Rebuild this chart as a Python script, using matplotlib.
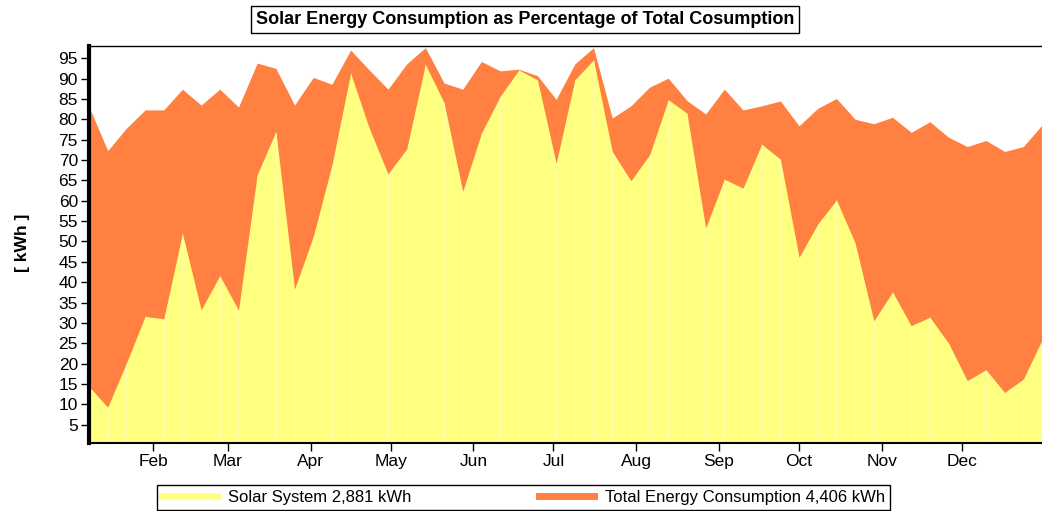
import numpy as np
import matplotlib.pyplot as plt
from matplotlib.lines import Line2D

plt.rcParams['font.family'] = ['Liberation Sans', 'DejaVu Sans']

# weekly values, first week ends on day 7
days = np.arange(1, 53) * 7
total = [83.1, 72.3, 77.8, 82.3, 82.3, 87.4, 83.5, 87.4, 83.0, 93.8,
         92.5, 83.5, 90.3, 88.6, 97.0, 92.1, 87.4, 93.6, 97.6, 88.9,
         87.4, 94.2, 91.9, 92.3, 90.7, 84.9, 93.6, 97.6, 80.3, 83.3,
         87.9, 90.1, 84.6, 81.3, 87.4, 82.3, 83.3, 84.5, 78.4, 82.7,
         85.1, 80.0, 78.9, 80.5, 76.8, 79.4, 75.6, 73.3, 74.8, 72.1,
         73.3, 78.6]
solar = [14.4, 9.3, 20.1, 31.6, 31.0, 52.0, 33.2, 41.6, 33.1, 66.4,
         77.0, 38.3, 51.2, 68.8, 91.3, 77.8, 66.6, 72.7, 93.5, 84.1,
         62.3, 76.6, 85.6, 92.1, 89.7, 69.2, 89.7, 94.6, 72.1, 64.9,
         71.3, 84.8, 81.5, 53.3, 65.3, 63.1, 73.9, 70.2, 46.1, 54.3,
         60.2, 49.6, 30.5, 37.6, 29.3, 31.4, 25.0, 15.8, 18.5, 12.9,
         16.2, 25.8]

month_days = [31, 59, 90, 120, 151, 181, 212, 243, 273, 304, 334]
month_names = ['Feb', 'Mar', 'Apr', 'May', 'Jun', 'Jul', 'Aug', 'Sep', 'Oct', 'Nov', 'Dec']

solar_label = 'Solar System 2,881 kWh'
total_label = 'Total Energy Consumption 4,406 kWh'
title = 'Solar Energy Consumption as Percentage of Total Cosumption'

orange = '#FF8040'
yellow = '#FFFF80'

fig = plt.figure(figsize=(10.42, 5.11), dpi=100)
ax = fig.add_axes([89 / 1042, 1 - 443 / 511, 953 / 1042, 397 / 511])

ax.fill_between(days, total, 0, color=orange, lw=0)
ax.fill_between(days, solar, 0, color=yellow, lw=0)
ax.vlines(days, 0, solar, colors='white', lw=0.7, alpha=0.35)

ax.set_xlim(days[0], days[-1])
ax.set_ylim(0.5, 98)
ax.set_yticks(np.arange(5, 100, 5))
ax.set_xticks(month_days)
ax.set_xticklabels(month_names)
ax.tick_params(axis='both', labelsize=12.5, direction='out', length=6, width=1)
ax.tick_params(axis='x', pad=2)
ax.tick_params(axis='y', pad=2)

ax.spines['right'].set_visible(False)
ax.spines['left'].set_linewidth(3)
ax.spines['bottom'].set_linewidth(1.5)
ax.spines['top'].set_linewidth(1)

fig.text(22 / 1042, 1 - 243 / 511, '[ kWh ]', rotation=90, ha='center', va='center',
         fontsize=12.5, fontweight='bold')

fig.text(525 / 1042, 1 - 19.5 / 511, title, ha='center', va='center',
         fontsize=13, fontweight='bold',
         bbox=dict(boxstyle='square,pad=0.25', fc='white', ec='black', lw=1))

handles = [Line2D([], [], color=yellow, lw=5), Line2D([], [], color=orange, lw=5)]
leg = fig.legend(handles, [solar_label, total_label], loc='lower left',
                 bbox_to_anchor=(157 / 1042, 1 - 510 / 511, 733 / 1042, 26 / 511),
                 mode='expand', ncol=2, fontsize=12, handlelength=3.3,
                 borderaxespad=0, fancybox=False, edgecolor='black',
                 framealpha=1, borderpad=0.3, handletextpad=0.65)
leg.get_frame().set_linewidth(1)

fig.savefig('out.png', dpi=100)
